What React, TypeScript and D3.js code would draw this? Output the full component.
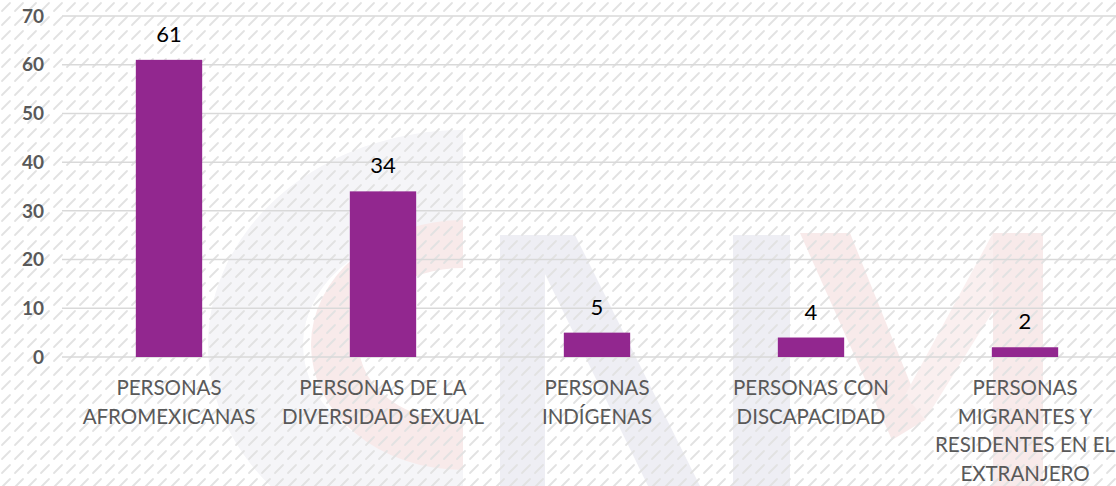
import React from "react";
import * as d3 from "d3";

const categories: string[][] = [
  ["PERSONAS", "AFROMEXICANAS"],
  ["PERSONAS DE LA", "DIVERSIDAD SEXUAL"],
  ["PERSONAS", "INDÍGENAS"],
  ["PERSONAS CON", "DISCAPACIDAD"],
  ["PERSONAS", "MIGRANTES Y", "RESIDENTES EN EL", "EXTRANJERO"],
];
const values: number[] = [61, 34, 5, 4, 2];
const yTicks: number[] = [0, 10, 20, 30, 40, 50, 60, 70];

const W = 1116;
const H = 486;
const FONT = "Lato, 'Open Sans', sans-serif";

function halfRing(cx: number, cy: number, rxo: number, ryo: number, t: number): string {
  const rxi = rxo - t;
  const ryi = ryo - t;
  return `M${cx},${cy - ryo} A${rxo},${ryo} 0 0 0 ${cx},${cy + ryo} L${cx},${cy + ryi} A${rxi},${ryi} 0 0 1 ${cx},${cy - ryi} Z`;
}

export default function App() {
  const x = d3
    .scaleBand<number>()
    .domain(values.map((_, i) => i))
    .range([62, 1132])
    .paddingInner(0.69)
    .paddingOuter(0.345);
  const y = d3.scaleLinear().domain([0, 70]).range([357, 16]);

  const pink = "#f8eaea";
  const grey = "#eeeef4";

  return (
    <svg
      width={W}
      height={H}
      style={{ position: "absolute", left: 0, top: 0, background: "#fff" }}
    >
      <defs>
        <pattern id="hatch" width="13" height="14" patternUnits="userSpaceOnUse">
          <line x1="2" y1="11" x2="10" y2="3" stroke="#e2e2e2" strokeWidth="1.8" strokeLinecap="round" />
        </pattern>
      </defs>
      <rect x={0} y={0} width={W} height={H} fill="#fff" />
      {/* watermark */}
      <g>
        <path d={halfRing(463, 345, 255, 215, 95)} fill="#f5f5f8" />
        <path d={halfRing(463, 345, 152, 125, 48)} fill={pink} />
        <path d="M500,235 L545,235 L545,486 L500,486 Z" fill={grey} />
        <path d="M526,235 L575,235 L700,486 L648,486 Z" fill={grey} />
        <path d="M733,235 L790,235 L790,486 L733,486 Z" fill={grey} />
        <path d="M800,233 L850,233 L925,420 L892,440 Z" fill={pink} />
        <path d="M993,233 L1000,300 L925,420 L905,395 Z" fill="#faefef" />
        <path d="M993,233 L1043,233 L1043,486 L993,486 Z" fill={pink} />
      </g>
      <rect x={0} y={0} width={W} height={H} fill="url(#hatch)" />
      {/* gridlines */}
      {yTicks.map((t) => (
        <line key={t} x1={62} x2={W} y1={y(t)} y2={y(t)} stroke="#d9d9d9" strokeWidth={1.5} />
      ))}
      {/* y labels */}
      {yTicks.map((t) => (
        <text
          key={"l" + t}
          x={44}
          y={y(t)}
          dy="0.35em"
          textAnchor="end"
          fontFamily={FONT}
          fontWeight="bold"
          fontSize={19}
          fill="#595959"
        >
          {t}
        </text>
      ))}
      {/* bars */}
      {values.map((v, i) => (
        <rect
          key={"b" + i}
          x={x(i)}
          y={y(v)}
          width={x.bandwidth()}
          height={y(0) - y(v)}
          fill="#92278F"
        />
      ))}
      {/* value labels */}
      {values.map((v, i) => (
        <text
          key={"v" + i}
          x={(x(i) as number) + x.bandwidth() / 2}
          y={y(v) - 18}
          textAnchor="middle"
          fontFamily={FONT}
          fontSize={22}
          fill="#000"
        >
          {v}
        </text>
      ))}
      {/* category labels */}
      {categories.map((lines, i) => (
        <text
          key={"c" + i}
          x={(x(i) as number) + x.bandwidth() / 2}
          textAnchor="middle"
          fontFamily={FONT}
          fontSize={20.5}
          fill="#595959"
        >
          {lines.map((ln, j) => (
            <tspan key={j} x={(x(i) as number) + x.bandwidth() / 2} y={395 + j * 28.5}>
              {ln}
            </tspan>
          ))}
        </text>
      ))}
    </svg>
  );
}
